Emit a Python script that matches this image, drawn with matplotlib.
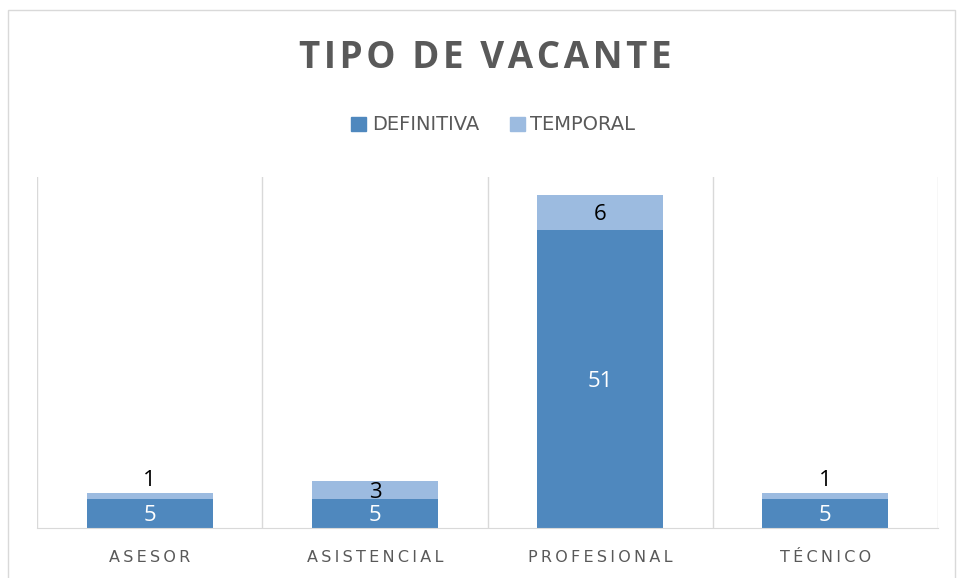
"""Stacked bar chart: tipo de vacante."""

import matplotlib.pyplot as plt
import numpy as np
from matplotlib.patches import Patch, Rectangle

categories = ["ASESOR", "ASISTENCIAL", "PROFESIONAL", "TÉCNICO"]
definitiva = [5, 5, 51, 5]
temporal = [1, 3, 6, 1]

BLUE = "#4F88BE"
LIGHT = "#9CBBE0"
GRID = "#D9D9D9"
TEXT = "#595959"


def spaced(s, sep="\u200a"):
    return sep.join(s)


fig = plt.figure(figsize=(9.58, 5.78), dpi=100)
ax = fig.add_axes([37 / 958, 1 - 528 / 578, 901 / 958, 351 / 578])

x = np.arange(len(categories))
w = 0.56
ax.bar(x, definitiva, width=w, color=BLUE, zorder=2)
ax.bar(x, temporal, width=w, bottom=definitiva, color=LIGHT, zorder=2)

ax.set_xlim(-0.5, len(categories) - 0.5)
ax.set_ylim(0, 60)
for b in np.arange(-0.5, len(categories), 1.0):
    ax.axvline(b, color=GRID, lw=1, zorder=1)

for sp in ["top", "left", "right"]:
    ax.spines[sp].set_visible(False)
ax.spines["bottom"].set_color(GRID)
ax.set_yticks([])
ax.set_xticks(x)
ax.set_xticklabels([spaced(c, "\u2009") for c in categories], fontsize=11.5,
                   color=TEXT, family="DejaVu Sans")
ax.tick_params(axis="x", length=0, pad=16)

for i in range(len(categories)):
    d, t = definitiva[i], temporal[i]
    ax.text(i, d / 2, str(d), ha="center", va="center_baseline", color="white",
            fontsize=16, family="Open Sans")
    if t < 2:
        ax.text(i, d + t + 0.4, str(t), ha="center", va="bottom", color="black",
                fontsize=16, family="Open Sans")
    else:
        ax.text(i, d + t / 2, str(t), ha="center", va="center_baseline",
                color="black", fontsize=16, family="Open Sans")

fig.text(0.507, 1 - 58 / 578, spaced("TIPO DE VACANTE", "\u200a"), ha="center",
         va="center", fontsize=26.5, fontweight="bold", color=TEXT,
         family="Open Sans")

handles = [Patch(color=BLUE, label="DEFINITIVA"), Patch(color=LIGHT, label="TEMPORAL")]
leg = fig.legend(handles=handles, loc="center", ncol=2,
                 bbox_to_anchor=(0.515, 1 - 125 / 578), frameon=False,
                 fontsize=14, handlelength=0.75, handleheight=0.75,
                 handletextpad=0.3, columnspacing=1.6)
for t in leg.get_texts():
    t.set_color(TEXT)

fig.patches.append(Rectangle((8 / 958, -0.01), 947 / 958, 1 - 10 / 578 + 0.01,
                             transform=fig.transFigure, fill=False,
                             edgecolor=GRID, lw=1))

plt.savefig("out.png", dpi=100)
plt.close()
